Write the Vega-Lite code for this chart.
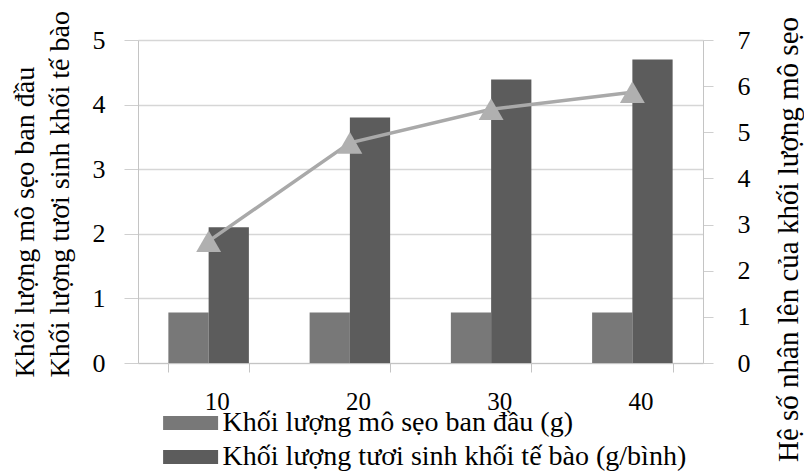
{
  "$schema": "https://vega.github.io/schema/vega-lite/v6.json",
  "autosize": {"type": "none"},
  "padding": {"left": 138, "top": 40, "right": 101, "bottom": 111},
  "width": 565,
  "height": 323,
  "background": "white",
  "config": {
    "view": {"stroke": null},
    "font": "Liberation Serif, DejaVu Serif, serif",
    "style": {
      "guide-label": {"font": "Liberation Serif, DejaVu Serif, serif", "fill": "#000000"},
      "guide-title": {"font": "Liberation Serif, DejaVu Serif, serif", "fill": "#000000", "fontWeight": "normal"}
    },
    "legend": {"labelFont": "Liberation Serif, DejaVu Serif, serif", "labelColor": "#000000"}
  },
  "datasets": {
    "khoiLuong": [
      {"lieu": "10", "chiTieu": "Khối lượng mô sẹo ban đầu (g)", "giaTri": 0.78},
      {"lieu": "10", "chiTieu": "Khối lượng tươi sinh khối tế bào (g/bình)", "giaTri": 2.1},
      {"lieu": "20", "chiTieu": "Khối lượng mô sẹo ban đầu (g)", "giaTri": 0.78},
      {"lieu": "20", "chiTieu": "Khối lượng tươi sinh khối tế bào (g/bình)", "giaTri": 3.8},
      {"lieu": "30", "chiTieu": "Khối lượng mô sẹo ban đầu (g)", "giaTri": 0.78},
      {"lieu": "30", "chiTieu": "Khối lượng tươi sinh khối tế bào (g/bình)", "giaTri": 4.39},
      {"lieu": "40", "chiTieu": "Khối lượng mô sẹo ban đầu (g)", "giaTri": 0.78},
      {"lieu": "40", "chiTieu": "Khối lượng tươi sinh khối tế bào (g/bình)", "giaTri": 4.7}
    ],
    "heSoNhan": [
      {"lieu": "10", "heSo": 2.64},
      {"lieu": "20", "heSo": 4.77},
      {"lieu": "30", "heSo": 5.5},
      {"lieu": "40", "heSo": 5.87}
    ]
  },
  "encoding": {
    "x": {
      "field": "lieu",
      "type": "nominal",
      "sort": ["10", "20", "30", "40"],
      "scale": {"paddingInner": 0.43, "paddingOuter": 0.215},
      "axis": {
        "title": null,
        "labelAngle": 0,
        "labelFont": "Liberation Serif, DejaVu Serif, serif",
        "labelColor": "#000000",
        "labelFontSize": 25,
        "labelOffset": 8,
        "labelPadding": 17,
        "tickBand": "extent",
        "tickSize": 9,
        "tickColor": "#c4c4c4",
        "domainColor": "#c4c4c4",
        "grid": false
      }
    }
  },
  "layer": [
    {
      "data": {"name": "khoiLuong"},
      "mark": {"type": "bar", "strokeWidth": 0},
      "encoding": {
        "xOffset": {"field": "chiTieu", "type": "nominal", "sort": ["Khối lượng mô sẹo ban đầu (g)", "Khối lượng tươi sinh khối tế bào (g/bình)"]},
        "y": {
          "field": "giaTri",
          "type": "quantitative",
          "scale": {"domain": [0, 5], "nice": false},
          "axis": {
            "orient": "left",
            "values": [0, 1, 2, 3, 4, 5],
            "format": "d",
            "grid": true,
            "gridColor": "#d6d6d6",
            "gridWidth": 1.5,
            "domainColor": "#c4c4c4",
            "tickColor": "#cfcfcf",
            "tickSize": 14,
            "labelFont": "Liberation Serif, DejaVu Serif, serif",
            "labelColor": "#000000",
            "labelFontSize": 26,
            "labelPadding": 19,
            "title": ["Khối lượng mô sẹo ban đầu", "Khối lượng tươi sinh khối tế bào"],
            "titleFont": "Liberation Serif, DejaVu Serif, serif",
            "titleColor": "#000000",
            "titleFontWeight": "normal",
            "titleFontSize": 28,
            "titleAngle": 270,
            "titleAlign": "left",
            "titleBaseline": "alphabetic",
            "titleLineHeight": 35,
            "titleX": -105,
            "titleY": 337
          }
        },
        "color": {
          "field": "chiTieu",
          "type": "nominal",
          "sort": ["Khối lượng mô sẹo ban đầu (g)", "Khối lượng tươi sinh khối tế bào (g/bình)"],
          "scale": {"range": ["#787878", "#5c5c5c"]},
          "legend": {
            "title": null,
            "orient": "none",
            "legendX": 38.6,
            "legendY": 369,
            "direction": "vertical",
            "padding": 0,
            "symbolType": "M-4,-1.02H4V1.02H-4Z",
            "symbolSize": 189,
            "symbolStrokeWidth": 0,
            "symbolOpacity": 1,
            "labelFontSize": 28,
            "labelOffset": 18,
            "labelLimit": 700,
            "rowPadding": 6
          }
        }
      }
    },
    {
      "data": {"name": "heSoNhan"},
      "mark": {
        "type": "line",
        "color": "#a9a9a9",
        "strokeWidth": 3.5,
        "point": {"shape": "triangle-up", "size": 620, "filled": true, "color": "#b0b0b0", "opacity": 1}
      },
      "encoding": {
        "y": {
          "field": "heSo",
          "type": "quantitative",
          "scale": {"domain": [0, 7], "nice": false},
          "axis": {
            "orient": "right",
            "values": [0, 1, 2, 3, 4, 5, 6, 7],
            "format": "d",
            "grid": false,
            "domainColor": "#c4c4c4",
            "tickColor": "#cfcfcf",
            "tickSize": 10,
            "labelFont": "Liberation Serif, DejaVu Serif, serif",
            "labelColor": "#000000",
            "labelFontSize": 26,
            "labelPadding": 24,
            "title": "Hệ số nhân lên của khối lượng mô sẹo",
            "titleFont": "Liberation Serif, DejaVu Serif, serif",
            "titleColor": "#000000",
            "titleFontWeight": "normal",
            "titleFontSize": 29,
            "titleAngle": 270,
            "titleAlign": "center",
            "titleBaseline": "alphabetic",
            "titleX": 94,
            "titleY": 199
          }
        }
      }
    }
  ],
  "resolve": {"scale": {"y": "independent"}}
}
